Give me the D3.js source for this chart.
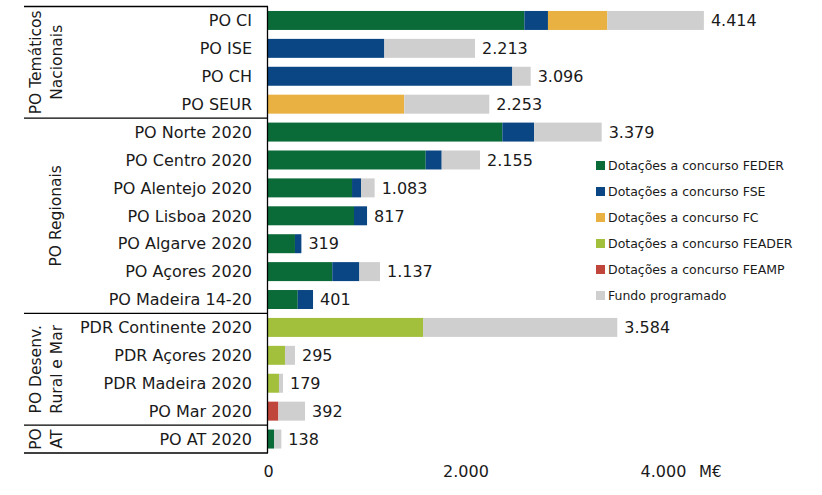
<!DOCTYPE html>
<html>
<head>
<meta charset="utf-8">
<script src="https://cdn.jsdelivr.net/npm/d3@7"></script>
<style>
  html, body { margin: 0; padding: 0; background: #fff; }
  svg { display: block; font-family: "DejaVu Sans", sans-serif; }
</style>
</head>
<body>
<svg id="chart" width="822" height="495"></svg>
<script>
// ---- data ----
const categories = ["PO CI", "PO ISE", "PO CH", "PO SEUR",
  "PO Norte 2020", "PO Centro 2020", "PO Alentejo 2020", "PO Lisboa 2020",
  "PO Algarve 2020", "PO Açores 2020", "PO Madeira 14-20",
  "PDR Continente 2020", "PDR Açores 2020", "PDR Madeira 2020", "PO Mar 2020",
  "PO AT 2020"];
const feder  = [2596, 0, 0, 0, 2373, 1597, 851, 871, 273, 651, 301, 0, 0, 0, 0, 61];
const fse    = [239, 1178, 2474, 0, 321, 162, 91, 132, 65, 274, 155, 0, 0, 0, 0, 0];
const fc     = [601, 0, 0, 1380, 0, 0, 0, 0, 0, 0, 0, 0, 0, 0, 0, 0];
const feader = [0, 0, 0, 0, 0, 0, 0, 0, 0, 0, 0, 1570, 172, 111, 0, 0];
const feamp  = [0, 0, 0, 0, 0, 0, 0, 0, 0, 0, 0, 0, 0, 0, 105, 0];
// remaining part of the programmed fund (grey segment), as drawn
const fundoRestante = [978, 918, 186, 861, 685, 388, 138, 0, 0, 209, 0, 1967, 101, 41, 270, 74];
// labelled totals (Fundo programado)
const fundoProgramado = [4414, 2213, 3096, 2253, 3379, 2155, 1083, 817, 319, 1137, 401, 3584, 295, 179, 392, 138];
const seriesNames = ["Dotações a concurso FEDER", "Dotações a concurso FSE", "Dotações a concurso FC",
  "Dotações a concurso FEADER", "Dotações a concurso FEAMP", "Fundo programado"];
const seriesColors = ["#0a6a38", "#0a4683", "#e9b042", "#a2c03b", "#c0463b", "#cfcfcf"];
const groupLabels = [["PO Temáticos", "Nacionais"], ["PO Regionais"], ["PO Desenv.", "Rural e Mar"], ["PO", "AT"]];
const groupSizes = [4, 7, 4, 1];
const xTicks = [0, 2000, 4000];
const unitLabel = "M€";

// ---- build table ----
const table = categories.map((c, i) => ({
  cat: c, feder: feder[i], fse: fse[i], fc: fc[i], feader: feader[i], feamp: feamp[i],
  rest: fundoRestante[i], total: fundoProgramado[i]
}));
const keys = ["feder", "fse", "fc", "feader", "feamp", "rest"];
const stacked = d3.stack().keys(keys)(table);
const ends = stacked[stacked.length - 1].map(d => d[1]);

const locale = d3.formatLocale({ decimal: ",", thousands: ".", grouping: [3], currency: ["", "€"] });
const fmt = locale.format(",d");

const svg = d3.select("#chart");
const x = d3.scaleLinear().domain([0, 4000]).range([268, 663]);
const y = d3.scaleBand().domain(categories).range([6.5, 453]).paddingInner(0.32).paddingOuter(0.16);

// bars
svg.append("g").selectAll("g").data(stacked).join("g")
  .attr("fill", (d, i) => seriesColors[i])
  .selectAll("rect").data(d => d).join("rect")
  .attr("x", d => x(d[0]))
  .attr("y", d => y(d.data.cat))
  .attr("width", d => Math.max(0, x(d[1]) - x(d[0])))
  .attr("height", y.bandwidth());

// value labels
svg.append("g").selectAll("text").data(table).join("text")
  .attr("x", (d, i) => x(ends[i]) + 7)
  .attr("y", d => y(d.cat) + y.bandwidth() / 2)
  .attr("dy", "0.36em")
  .attr("font-size", 16)
  .attr("fill", "#1a1a1a")
  .text(d => fmt(d.total));

// category labels
svg.append("g").selectAll("text").data(categories).join("text")
  .attr("x", 252)
  .attr("y", d => y(d) + y.bandwidth() / 2)
  .attr("dy", "0.36em")
  .attr("text-anchor", "end")
  .attr("font-size", 16)
  .attr("fill", "#1a1a1a")
  .text(d => d);

// group boxes
const step = y.step();
const yTop = y.range()[0];
let idx = 0;
const bounds = [yTop];
groupSizes.forEach(n => { idx += n; bounds.push(yTop + idx * step); });
const lines = svg.append("g").attr("stroke", "#000").attr("stroke-width", 1.3);
bounds.forEach(b => {
  lines.append("line").attr("x1", 24).attr("x2", 268).attr("y1", b).attr("y2", b);
});
lines.append("line").attr("x1", 267.5).attr("x2", 267.5).attr("y1", bounds[0]).attr("y2", bounds[bounds.length - 1]);

groupLabels.forEach((lbl, gi) => {
  const cy = (bounds[gi] + bounds[gi + 1]) / 2;
  const xs = lbl.length === 2 ? [35.5, 56] : [55];
  lbl.forEach((t, li) => {
    svg.append("text")
      .attr("transform", `translate(${xs[li]},${cy}) rotate(-90)`)
      .attr("text-anchor", "middle")
      .attr("dy", "0.36em")
      .attr("font-size", 15.5)
      .attr("fill", "#1a1a1a")
      .text(t);
  });
});

// x axis (labels only)
const xAxis = d3.axisBottom(x).tickValues(xTicks).tickFormat(fmt).tickSize(0).tickPadding(0);
const gx = svg.append("g").attr("transform", "translate(0,466)").call(xAxis);
gx.select(".domain").remove();
gx.selectAll("text").attr("font-size", 16).attr("fill", "#1a1a1a").attr("font-family", "DejaVu Sans, sans-serif");
svg.append("text").attr("x", 699).attr("y", 477).attr("font-size", 15).attr("fill", "#1a1a1a").text(unitLabel);

// legend
const lg = svg.append("g");
seriesNames.forEach((n, i) => {
  const cy = 165.5 + i * 26;
  lg.append("rect").attr("x", 596).attr("y", cy - 4.5).attr("width", 9).attr("height", 9).attr("fill", seriesColors[i]);
  lg.append("text").attr("x", 608).attr("y", cy).attr("dy", "0.36em").attr("font-size", 12.5).attr("fill", "#1a1a1a").text(n);
});
</script>
</body>
</html>
